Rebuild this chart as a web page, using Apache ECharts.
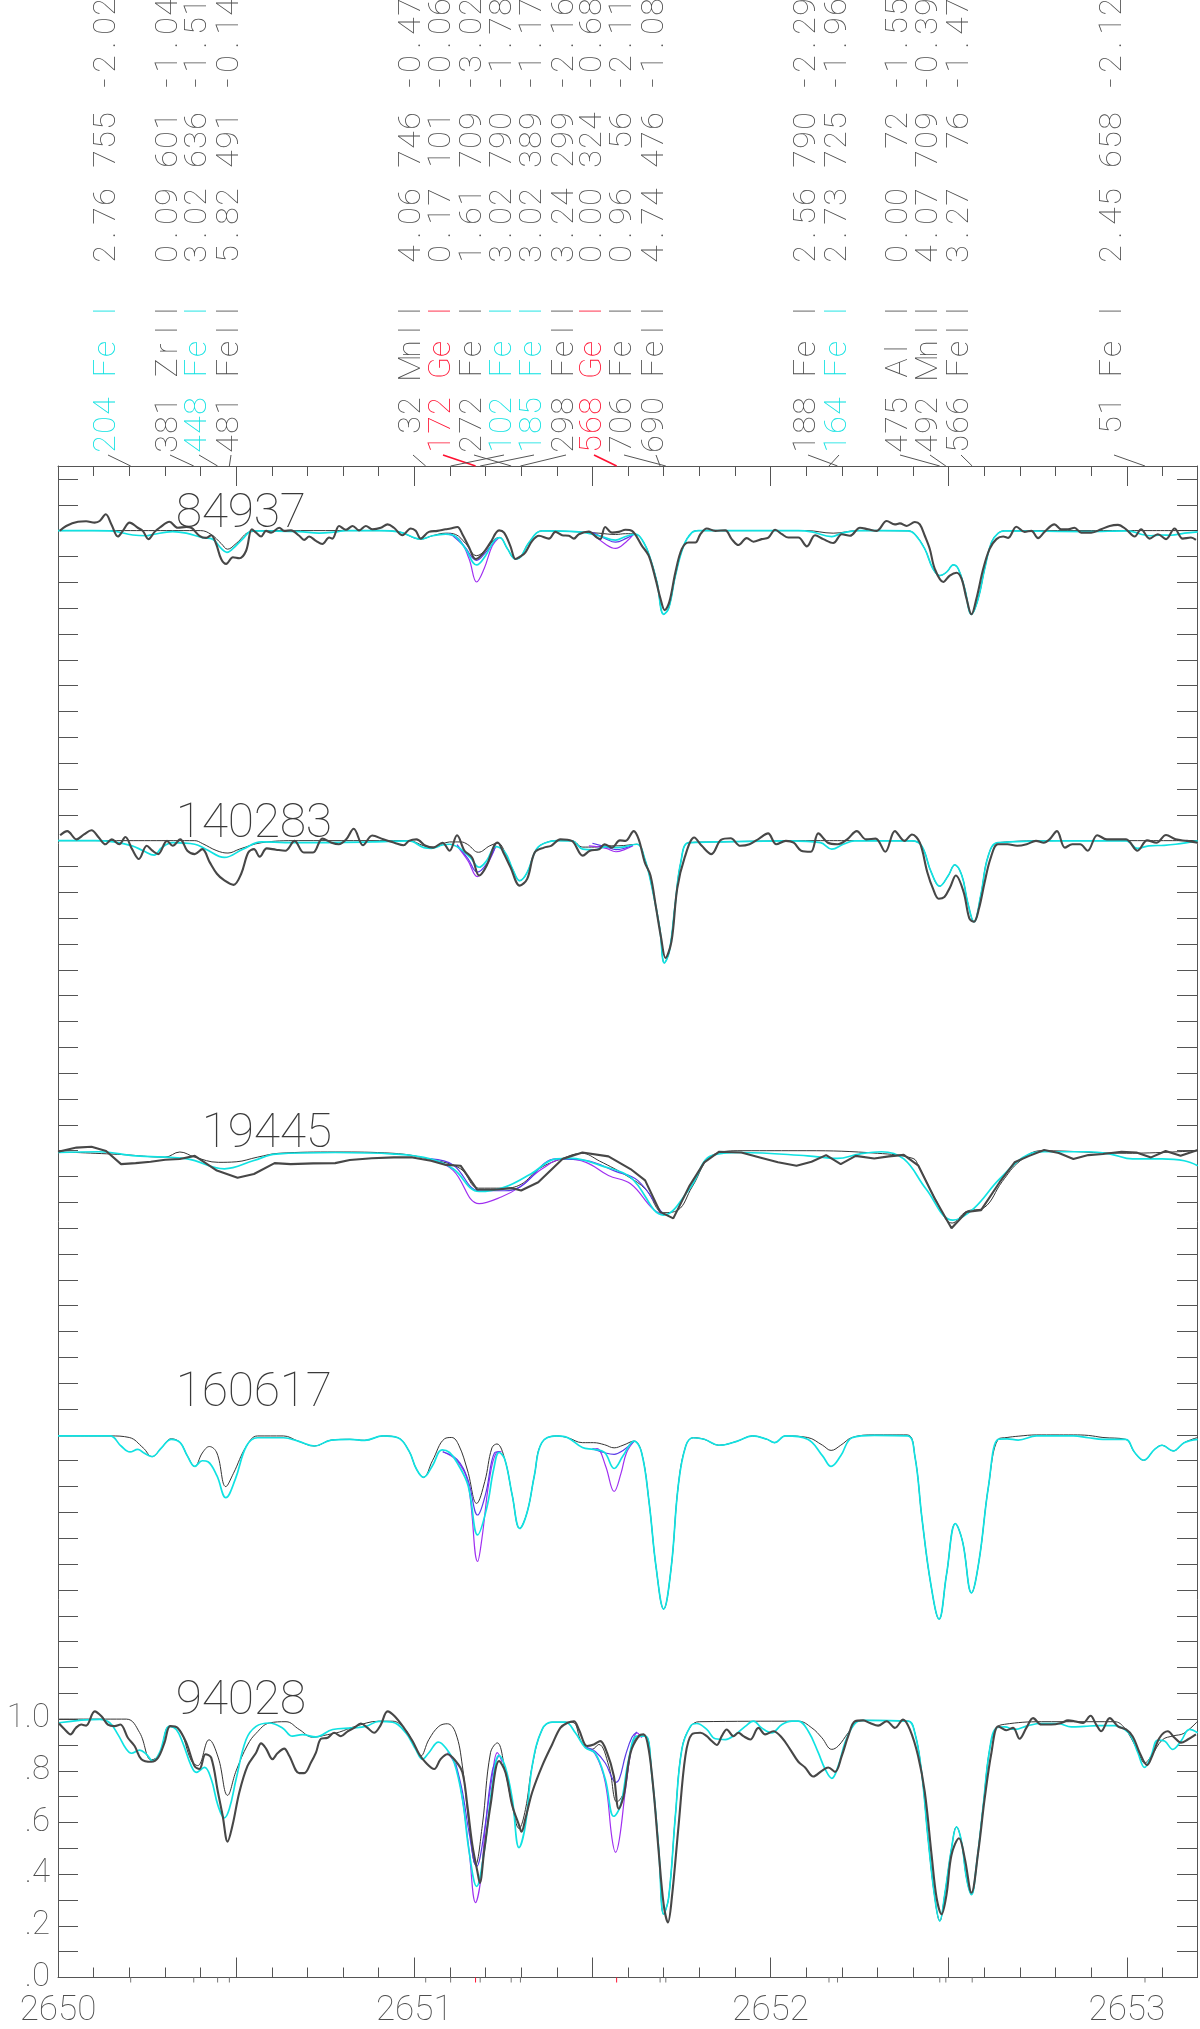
<!DOCTYPE html>
<html>
<head>
<meta charset="utf-8">
<script src="https://cdn.jsdelivr.net/npm/echarts@6.0.0/dist/echarts.min.js"></script>
<style>
  html, body { margin: 0; padding: 0; background: #fff; }
  #chart { width: 1200px; height: 2029px; }
</style>
</head>
<body>
<div id="chart"></div>
<script>
// spectra, top to bottom; flux is normalised, offsets stack them
var names = ['84937', '140283', '19445', '160617', '94028'];
var offsets = [4.6, 3.4, 2.2, 1.1, 0];
var labelFlux = [5.625, 4.425, 3.225, 2.225, 1.03];

// line list shown above the plot
var lineWave = [2650.204, 2650.381, 2650.448, 2650.481, 2651.032, 2651.172, 2651.272, 2651.102, 2651.185,
  2651.298, 2651.568, 2651.706, 2651.690, 2652.188, 2652.164, 2652.475, 2652.492, 2652.566, 2653.051];
var lineText = [
  "204 Fe I  2.76 755 -2.02",
  "381 ZrII  0.09 601 -1.04",
  "448 Fe I  3.02 636 -1.51",
  "481 FeII  5.82 491 -0.14",
  " 32 MnII  4.06 746 -0.47",
  "172 Ge I  0.17 101 -0.06",
  "272 Fe I  1.61 709 -3.02",
  "102 Fe I  3.02 790 -1.78",
  "185 Fe I  3.02 389 -1.17",
  "298 FeII  3.24 299 -2.16",
  "568 Ge I  0.00 324 -0.68",
  "706 Fe I  0.96  56 -2.11",
  "690 FeII  4.74 476 -1.08",
  "188 Fe I  2.56 790 -2.29",
  "164 Fe I  2.73 725 -1.96",
  "475 Al I  0.00  72 -1.55",
  "492 MnII  4.07 709 -0.39",
  "566 FeII  3.27  76 -1.47",
  " 51 Fe I  2.45 658 -2.12"
];
var lineKind = ['fe', '', 'fe', '', '', 'ge', '', 'fe', 'fe', '', 'ge', '', '', '', 'fe', '', '', '', ''];

// ---- 84937 ----
var obs84937 = [[2650.005,0.999],[2650.023,1.018],[2650.056,1.034],[2650.079,1.036],[2650.103,1.031],[2650.117,1.037],[2650.134,1.063],[2650.150,1.024],[2650.168,0.977],[2650.182,0.999],[2650.201,1.031],[2650.224,1.011],[2650.238,0.999],[2650.254,0.967],[2650.271,0.995],[2650.285,1.011],[2650.313,1.034],[2650.336,1.011],[2650.360,1.014],[2650.374,1.011],[2650.397,0.980],[2650.416,0.972],[2650.430,0.982],[2650.444,0.948],[2650.458,0.890],[2650.472,0.871],[2650.491,0.897],[2650.509,0.893],[2650.528,0.922],[2650.544,1.005],[2650.556,0.992],[2650.570,0.977],[2650.584,0.999],[2650.598,0.992],[2650.621,1.011],[2650.635,0.999],[2650.654,1.001],[2650.677,0.980],[2650.691,0.964],[2650.705,0.977],[2650.724,0.960],[2650.742,0.948],[2650.761,0.973],[2650.770,0.969],[2650.789,1.018],[2650.808,1.003],[2650.827,1.018],[2650.845,1.001],[2650.864,1.018],[2650.883,1.005],[2650.906,1.011],[2650.925,1.024],[2650.943,1.011],[2650.967,0.982],[2650.990,1.008],[2651.004,0.999],[2651.018,0.969],[2651.041,0.995],[2651.065,0.999],[2651.088,1.005],[2651.102,1.008],[2651.121,1.014],[2651.135,0.986],[2651.154,0.935],[2651.172,0.890],[2651.191,0.909],[2651.214,0.954],[2651.238,1.001],[2651.252,0.992],[2651.270,0.939],[2651.284,0.890],[2651.298,0.900],[2651.312,0.916],[2651.331,0.960],[2651.350,0.980],[2651.378,0.969],[2651.396,0.995],[2651.415,0.982],[2651.434,0.980],[2651.448,0.969],[2651.462,0.986],[2651.490,0.996],[2651.513,0.973],[2651.522,0.967],[2651.536,1.014],[2651.555,0.992],[2651.574,0.995],[2651.593,1.003],[2651.611,0.999],[2651.639,0.941],[2651.658,0.903],[2651.677,0.814],[2651.691,0.737],[2651.703,0.692],[2651.716,0.724],[2651.733,0.839],[2651.751,0.929],[2651.770,0.954],[2651.789,0.954],[2651.803,0.986],[2651.821,1.008],[2651.845,0.999],[2651.873,1.001],[2651.891,0.967],[2651.910,0.944],[2651.933,0.971],[2651.952,0.957],[2651.975,0.967],[2651.994,0.973],[2652.013,1.003],[2652.032,0.986],[2652.050,0.973],[2652.078,0.973],[2652.102,0.939],[2652.125,0.982],[2652.148,0.967],[2652.176,0.952],[2652.200,0.986],[2652.223,0.980],[2652.251,1.011],[2652.274,1.005],[2652.298,0.999],[2652.326,1.037],[2652.349,1.024],[2652.363,1.028],[2652.382,1.018],[2652.405,1.033],[2652.419,1.024],[2652.433,0.980],[2652.447,0.929],[2652.461,0.852],[2652.485,0.801],[2652.503,0.826],[2652.522,0.837],[2652.536,0.814],[2652.550,0.737],[2652.564,0.676],[2652.578,0.737],[2652.597,0.852],[2652.615,0.929],[2652.634,0.967],[2652.653,0.977],[2652.667,0.972],[2652.690,1.015],[2652.713,0.995],[2652.732,0.999],[2652.751,0.971],[2652.769,0.995],[2652.797,1.024],[2652.816,1.005],[2652.835,1.005],[2652.853,1.011],[2652.872,0.992],[2652.900,0.992],[2652.928,1.005],[2652.952,1.018],[2652.975,1.022],[2652.998,1.005],[2653.022,0.977],[2653.040,1.005],[2653.064,0.969],[2653.087,0.986],[2653.110,0.967],[2653.134,1.008],[2653.157,0.969],[2653.180,0.973],[2653.194,0.964]];
var syn84937 = [[2650.000,1.0],[2650.400,1.0],[2650.430,0.985],[2650.458,0.950],[2650.476,0.928],[2650.500,0.950],[2650.540,0.995],[2650.600,1.0],[2650.901,1.0],[2650.957,0.995],[2651.018,0.967],[2651.051,0.980],[2651.088,0.990],[2651.116,0.985],[2651.144,0.950],[2651.175,0.903],[2651.200,0.925],[2651.224,0.965],[2651.240,0.973],[2651.261,0.931],[2651.284,0.890],[2651.298,0.897],[2651.322,0.954],[2651.359,0.999],[2651.462,0.995],[2651.518,0.990],[2651.565,0.985],[2651.593,0.988],[2651.621,0.986],[2651.644,0.954],[2651.663,0.890],[2651.681,0.801],[2651.700,0.676],[2651.714,0.699],[2651.733,0.826],[2651.756,0.941],[2651.779,0.992],[2651.798,1.0],[2652.100,1.0],[2652.176,0.990],[2652.246,1.0],[2652.386,0.999],[2652.405,0.986],[2652.433,0.929],[2652.456,0.852],[2652.475,0.826],[2652.494,0.839],[2652.513,0.867],[2652.527,0.852],[2652.545,0.775],[2652.564,0.676],[2652.583,0.737],[2652.601,0.852],[2652.620,0.954],[2652.639,0.990],[2652.657,0.999],[2652.900,1.0],[2653.199,1.0]];
var cyan84937 = [[2650.000,1.0],[2650.145,0.999],[2650.210,0.983],[2650.248,0.980],[2650.266,0.985],[2650.322,0.996],[2650.360,0.990],[2650.406,0.973],[2650.434,0.967],[2650.458,0.931],[2650.474,0.916],[2650.490,0.929],[2650.518,0.967],[2650.546,0.999],[2650.677,0.996],[2650.733,0.990],[2650.780,0.995],[2650.808,1.0],[2650.901,1.0],[2650.957,0.995],[2651.018,0.967],[2651.051,0.980],[2651.088,0.986],[2651.116,0.977],[2651.144,0.929],[2651.175,0.867],[2651.200,0.903],[2651.224,0.960],[2651.240,0.973],[2651.261,0.931],[2651.284,0.890],[2651.298,0.897],[2651.322,0.954],[2651.359,0.999],[2651.462,0.995],[2651.518,0.980],[2651.565,0.963],[2651.593,0.977],[2651.621,0.986],[2651.644,0.954],[2651.663,0.890],[2651.681,0.801],[2651.700,0.676],[2651.714,0.699],[2651.733,0.826],[2651.756,0.941],[2651.779,0.992],[2651.798,1.0],[2652.078,1.0],[2652.116,0.995],[2652.172,0.977],[2652.200,0.990],[2652.246,1.0],[2652.386,0.999],[2652.405,0.986],[2652.433,0.929],[2652.456,0.852],[2652.475,0.826],[2652.494,0.839],[2652.513,0.867],[2652.527,0.852],[2652.545,0.775],[2652.564,0.676],[2652.583,0.737],[2652.601,0.852],[2652.620,0.954],[2652.639,0.990],[2652.657,0.999],[2652.891,0.996],[2653.003,0.999],[2653.040,0.986],[2653.068,0.980],[2653.096,0.983],[2653.124,0.982],[2653.162,0.990],[2653.199,0.995]];
var blue84937 = [[2651.100,0.990],[2651.140,0.940],[2651.175,0.885],[2651.200,0.915],[2651.230,0.970],[2651.400,null],[2651.500,0.993],[2651.535,0.970],[2651.565,0.955],[2651.595,0.970],[2651.620,0.990]];
var purple84937 = [[2651.088,0.987],[2651.126,0.967],[2651.154,0.890],[2651.175,0.801],[2651.196,0.852],[2651.219,0.941],[2651.238,0.973],[2651.400,null],[2651.499,0.990],[2651.536,0.948],[2651.565,0.931],[2651.593,0.954],[2651.616,0.986]];

// ---- 140283 ----
var obs140283 = [[2650.006,1.021],[2650.026,1.037],[2650.052,1.005],[2650.073,1.024],[2650.094,1.040],[2650.115,1.011],[2650.133,0.986],[2650.151,1.005],[2650.172,0.986],[2650.189,1.014],[2650.208,0.967],[2650.227,0.929],[2650.249,0.980],[2650.265,0.961],[2650.281,0.948],[2650.306,0.999],[2650.322,0.980],[2650.343,1.005],[2650.363,0.961],[2650.384,0.948],[2650.405,0.967],[2650.426,0.916],[2650.446,0.872],[2650.467,0.846],[2650.493,0.829],[2650.514,0.871],[2650.534,0.954],[2650.550,0.967],[2650.566,0.938],[2650.586,0.970],[2650.612,0.965],[2650.638,0.961],[2650.664,0.999],[2650.690,0.954],[2650.716,0.954],[2650.742,1.008],[2650.768,0.992],[2650.788,0.986],[2650.809,1.005],[2650.830,1.046],[2650.856,0.982],[2650.882,1.020],[2650.913,1.005],[2650.944,0.992],[2650.970,0.982],[2650.985,0.999],[2651.006,1.005],[2651.032,0.980],[2651.053,0.973],[2651.079,0.992],[2651.099,0.961],[2651.120,1.021],[2651.141,0.961],[2651.162,0.935],[2651.182,0.865],[2651.203,0.903],[2651.224,0.980],[2651.234,0.993],[2651.250,0.954],[2651.270,0.897],[2651.296,0.826],[2651.317,0.852],[2651.338,0.954],[2651.364,0.973],[2651.384,0.980],[2651.410,1.005],[2651.442,0.999],[2651.473,0.942],[2651.493,0.961],[2651.519,0.967],[2651.534,0.986],[2651.555,0.973],[2651.577,1.001],[2651.593,0.999],[2651.616,1.037],[2651.630,1.005],[2651.647,0.916],[2651.663,0.865],[2651.679,0.737],[2651.693,0.622],[2651.705,0.546],[2651.722,0.610],[2651.738,0.814],[2651.759,0.935],[2651.786,1.012],[2651.807,0.980],[2651.834,0.948],[2651.861,1.003],[2651.888,1.009],[2651.915,0.980],[2651.941,0.986],[2651.968,1.008],[2651.993,1.028],[2652.016,0.986],[2652.043,0.999],[2652.065,0.992],[2652.086,0.961],[2652.113,0.957],[2652.134,1.028],[2652.161,0.992],[2652.188,0.986],[2652.215,1.005],[2652.242,1.037],[2652.268,1.005],[2652.295,1.008],[2652.322,0.957],[2652.349,1.037],[2652.376,0.999],[2652.397,1.024],[2652.419,0.992],[2652.440,0.878],[2652.456,0.814],[2652.472,0.775],[2652.488,0.782],[2652.504,0.820],[2652.520,0.865],[2652.542,0.801],[2652.558,0.699],[2652.571,0.686],[2652.585,0.737],[2652.601,0.839],[2652.617,0.929],[2652.638,0.986],[2652.665,0.986],[2652.692,0.980],[2652.719,0.986],[2652.745,0.999],[2652.767,0.992],[2652.783,1.005],[2652.804,1.037],[2652.826,0.973],[2652.847,0.986],[2652.869,0.986],[2652.890,0.961],[2652.917,1.021],[2652.944,1.005],[2652.971,1.005],[2652.998,1.005],[2653.030,0.961],[2653.057,1.001],[2653.083,0.992],[2653.110,1.022],[2653.137,1.005],[2653.169,0.999],[2653.199,0.992]];
var syn140283 = [[2650.000,1.0],[2650.384,1.0],[2650.405,0.989],[2650.446,0.961],[2650.477,0.952],[2650.509,0.967],[2650.571,0.992],[2650.674,1.0],[2650.985,1.0],[2651.027,0.980],[2651.055,0.975],[2651.099,0.995],[2651.131,0.995],[2651.150,0.985],[2651.180,0.955],[2651.212,0.980],[2651.235,0.990],[2651.255,0.954],[2651.276,0.890],[2651.296,0.845],[2651.317,0.877],[2651.343,0.967],[2651.369,0.992],[2651.402,1.0],[2651.442,1.0],[2651.473,0.975],[2651.506,0.975],[2651.537,0.980],[2651.572,0.980],[2651.625,0.986],[2651.647,0.929],[2651.668,0.814],[2651.689,0.661],[2651.702,0.527],[2651.716,0.572],[2651.732,0.750],[2651.748,0.916],[2651.770,0.992],[2651.840,0.995],[2652.140,1.0],[2652.236,1.0],[2652.397,0.999],[2652.424,0.980],[2652.451,0.878],[2652.475,0.824],[2652.499,0.865],[2652.517,0.906],[2652.537,0.865],[2652.553,0.763],[2652.571,0.686],[2652.590,0.788],[2652.611,0.941],[2652.638,0.992],[2652.804,1.0],[2653.199,1.0]];
var cyan140283 = [[2650.000,1.0],[2650.104,1.0],[2650.156,0.995],[2650.208,0.980],[2650.239,0.961],[2650.270,0.944],[2650.291,0.973],[2650.322,0.992],[2650.384,0.986],[2650.415,0.967],[2650.467,0.935],[2650.519,0.967],[2650.571,0.995],[2650.674,0.992],[2650.882,0.995],[2650.985,0.999],[2651.027,0.973],[2651.048,0.970],[2651.079,0.983],[2651.099,0.986],[2651.131,0.967],[2651.157,0.935],[2651.182,0.897],[2651.203,0.922],[2651.229,0.977],[2651.255,0.954],[2651.276,0.890],[2651.296,0.845],[2651.317,0.877],[2651.343,0.967],[2651.369,0.992],[2651.402,1.0],[2651.442,0.999],[2651.473,0.967],[2651.506,0.964],[2651.537,0.977],[2651.572,0.973],[2651.625,0.986],[2651.647,0.929],[2651.668,0.814],[2651.689,0.661],[2651.702,0.527],[2651.716,0.572],[2651.732,0.750],[2651.748,0.916],[2651.770,0.992],[2651.840,0.995],[2652.054,0.999],[2652.140,0.992],[2652.172,0.967],[2652.204,0.986],[2652.236,0.999],[2652.397,0.999],[2652.424,0.980],[2652.451,0.878],[2652.475,0.824],[2652.499,0.865],[2652.517,0.906],[2652.537,0.865],[2652.553,0.763],[2652.571,0.686],[2652.590,0.788],[2652.611,0.941],[2652.638,0.992],[2652.804,0.999],[2652.998,0.999],[2653.030,0.970],[2653.062,0.980],[2653.105,0.982],[2653.137,0.986],[2653.199,0.999]];
var blue140283 = [[2651.120,0.985],[2651.151,0.930],[2651.177,0.878],[2651.203,0.910],[2651.229,0.980],[2651.400,null],[2651.500,0.990],[2651.540,0.975],[2651.566,0.965],[2651.593,0.972],[2651.614,0.982]];
var purple140283 = [[2651.120,0.980],[2651.151,0.922],[2651.177,0.861],[2651.203,0.903],[2651.229,0.980],[2651.400,null],[2651.490,0.980],[2651.518,0.976],[2651.539,0.970],[2651.566,0.957],[2651.593,0.967],[2651.614,0.980]];

// ---- 19445 ----
var obs19445 = [[2650.000,0.996],[2650.052,1.012],[2650.094,1.015],[2650.135,0.999],[2650.177,0.948],[2650.218,0.952],[2650.260,0.957],[2650.301,0.965],[2650.342,0.968],[2650.384,0.980],[2650.446,0.923],[2650.504,0.895],[2650.550,0.910],[2650.608,0.952],[2650.653,0.948],[2650.716,0.951],[2650.778,0.952],[2650.819,0.964],[2650.881,0.971],[2650.943,0.974],[2650.995,0.974],[2651.047,0.961],[2651.089,0.945],[2651.130,0.942],[2651.176,0.850],[2651.223,0.849],[2651.275,0.855],[2651.300,0.846],[2651.348,0.878],[2651.416,0.968],[2651.472,0.993],[2651.545,0.978],[2651.607,0.929],[2651.648,0.885],[2651.690,0.763],[2651.727,0.738],[2651.773,0.865],[2651.814,0.955],[2651.856,0.996],[2651.918,0.993],[2651.970,0.974],[2652.021,0.955],[2652.073,0.942],[2652.115,0.957],[2652.156,0.983],[2652.197,0.948],[2652.239,0.980],[2652.291,0.970],[2652.332,0.978],[2652.374,0.984],[2652.415,0.942],[2652.461,0.814],[2652.508,0.700],[2652.550,0.763],[2652.591,0.770],[2652.643,0.878],[2652.685,0.955],[2652.726,0.980],[2652.768,1.003],[2652.809,0.991],[2652.850,0.968],[2652.892,0.983],[2652.933,0.987],[2652.985,0.996],[2653.027,0.993],[2653.068,0.974],[2653.109,0.999],[2653.151,0.980],[2653.199,1.003]];
var syn19445 = [[2650.000,0.996],[2650.180,0.985],[2650.300,0.975],[2650.342,0.995],[2650.384,0.975],[2650.450,0.955],[2650.500,0.957],[2650.560,0.975],[2650.620,0.990],[2650.780,0.995],[2650.940,0.990],[2651.050,0.965],[2651.130,0.930],[2651.180,0.855],[2651.250,0.855],[2651.300,0.870],[2651.350,0.930],[2651.416,0.970],[2651.470,0.990],[2651.520,0.960],[2651.600,0.900],[2651.650,0.850],[2651.700,0.760],[2651.740,0.770],[2651.780,0.860],[2651.840,0.985],[2651.920,1.0],[2652.100,1.0],[2652.300,0.990],[2652.400,0.970],[2652.415,0.942],[2652.460,0.820],[2652.510,0.720],[2652.550,0.765],[2652.600,0.780],[2652.650,0.880],[2652.700,0.960],[2652.760,1.0],[2653.000,0.990],[2653.199,1.0]];
var cyan19445 = [[2650.000,0.993],[2650.115,0.996],[2650.218,0.980],[2650.363,0.968],[2650.467,0.930],[2650.550,0.962],[2650.612,0.987],[2650.778,0.993],[2650.943,0.987],[2651.047,0.968],[2651.109,0.930],[2651.182,0.842],[2651.254,0.859],[2651.327,0.910],[2651.399,0.968],[2651.441,0.970],[2651.524,0.942],[2651.607,0.897],[2651.700,0.751],[2651.773,0.853],[2651.835,0.981],[2651.918,0.993],[2652.104,0.980],[2652.187,0.970],[2652.249,0.987],[2652.311,0.996],[2652.374,0.968],[2652.436,0.853],[2652.512,0.731],[2652.570,0.776],[2652.643,0.891],[2652.726,0.987],[2652.768,0.996],[2652.892,0.996],[2652.954,0.987],[2653.016,0.968],[2653.099,0.968],[2653.161,0.961],[2653.199,0.942]];
var blue19445 = [[2651.047,0.968],[2651.109,0.945],[2651.182,0.845],[2651.244,0.845],[2651.296,0.859],[2651.399,0.968],[2651.482,0.962],[2651.565,0.920],[2651.627,0.885],[2651.690,0.770],[2651.700,0.751]];
var purple19445 = [[2651.047,0.968],[2651.109,0.924],[2651.182,0.795],[2651.244,0.821],[2651.296,0.859],[2651.358,0.929],[2651.420,0.968],[2651.482,0.955],[2651.545,0.904],[2651.607,0.872],[2651.669,0.776],[2651.700,0.751]];

// ---- 160617 (no observed spectrum) ----
var syn160617 = [[2650.000,0.996],[2650.146,0.996],[2650.200,0.990],[2650.239,0.950],[2650.264,0.916],[2650.291,0.951],[2650.318,0.985],[2650.343,0.970],[2650.363,0.919],[2650.384,0.878],[2650.405,0.930],[2650.425,0.955],[2650.446,0.930],[2650.471,0.800],[2650.492,0.850],[2650.529,0.957],[2650.560,0.996],[2650.633,0.996],[2650.674,0.976],[2650.720,0.957],[2650.767,0.980],[2650.819,0.983],[2650.861,0.979],[2650.912,0.996],[2650.954,0.989],[2650.985,0.938],[2651.006,0.868],[2651.026,0.836],[2651.051,0.900],[2651.085,0.985],[2651.105,0.990],[2651.125,0.960],[2651.150,0.860],[2651.175,0.735],[2651.198,0.820],[2651.218,0.950],[2651.232,0.965],[2651.254,0.906],[2651.275,0.766],[2651.296,0.638],[2651.317,0.702],[2651.337,0.842],[2651.358,0.970],[2651.400,0.996],[2651.431,0.989],[2651.472,0.970],[2651.503,0.970],[2651.534,0.962],[2651.561,0.950],[2651.586,0.960],[2651.617,0.976],[2651.638,0.932],[2651.659,0.740],[2651.679,0.485],[2651.700,0.326],[2651.721,0.485],[2651.741,0.804],[2651.762,0.957],[2651.783,0.989],[2651.814,0.983],[2651.855,0.960],[2651.907,0.976],[2651.949,0.996],[2651.990,0.983],[2652.011,0.970],[2652.042,0.996],[2652.104,0.990],[2652.146,0.960],[2652.170,0.940],[2652.197,0.960],[2652.229,0.990],[2652.291,1.0],[2652.384,1.0],[2652.405,0.919],[2652.425,0.677],[2652.450,0.421],[2652.473,0.287],[2652.494,0.460],[2652.519,0.657],[2652.539,0.587],[2652.564,0.389],[2652.585,0.511],[2652.612,0.804],[2652.639,0.983],[2652.664,0.990],[2652.695,0.995],[2652.747,1.0],[2652.850,1.0],[2652.892,0.998],[2652.933,0.990],[2652.996,0.983],[2653.022,0.932],[2653.047,0.902],[2653.078,0.944],[2653.099,0.960],[2653.130,0.938],[2653.161,0.970],[2653.199,0.990]];
var cyan160617 = [[2650.000,0.996],[2650.146,0.996],[2650.177,0.957],[2650.202,0.934],[2650.224,0.944],[2650.239,0.932],[2650.264,0.916],[2650.291,0.951],[2650.318,0.983],[2650.343,0.970],[2650.363,0.919],[2650.384,0.878],[2650.405,0.900],[2650.421,0.896],[2650.446,0.842],[2650.471,0.757],[2650.498,0.830],[2650.529,0.957],[2650.560,0.989],[2650.633,0.989],[2650.674,0.976],[2650.720,0.957],[2650.767,0.980],[2650.819,0.983],[2650.861,0.979],[2650.912,0.996],[2650.954,0.989],[2650.985,0.938],[2651.006,0.868],[2651.026,0.836],[2651.051,0.881],[2651.078,0.942],[2651.099,0.932],[2651.120,0.893],[2651.151,0.804],[2651.178,0.613],[2651.203,0.715],[2651.223,0.868],[2651.238,0.932],[2651.254,0.906],[2651.275,0.766],[2651.296,0.638],[2651.317,0.702],[2651.337,0.842],[2651.358,0.970],[2651.400,0.996],[2651.431,0.989],[2651.472,0.951],[2651.503,0.944],[2651.534,0.932],[2651.561,0.870],[2651.586,0.919],[2651.617,0.976],[2651.638,0.932],[2651.659,0.740],[2651.679,0.485],[2651.700,0.326],[2651.721,0.485],[2651.741,0.804],[2651.762,0.957],[2651.783,0.989],[2651.814,0.983],[2651.855,0.960],[2651.907,0.976],[2651.949,0.996],[2651.990,0.983],[2652.011,0.970],[2652.042,0.996],[2652.104,0.983],[2652.146,0.919],[2652.170,0.878],[2652.197,0.919],[2652.229,0.989],[2652.291,0.998],[2652.384,0.996],[2652.405,0.919],[2652.425,0.677],[2652.450,0.421],[2652.473,0.287],[2652.494,0.460],[2652.519,0.657],[2652.539,0.587],[2652.564,0.389],[2652.585,0.511],[2652.612,0.804],[2652.639,0.983],[2652.664,0.985],[2652.695,0.980],[2652.747,0.996],[2652.850,0.996],[2652.892,0.989],[2652.933,0.983],[2652.996,0.983],[2653.022,0.932],[2653.047,0.902],[2653.078,0.944],[2653.099,0.960],[2653.130,0.938],[2653.161,0.970],[2653.199,0.983]];
var blue160617 = [[2651.080,0.935],[2651.120,0.905],[2651.150,0.830],[2651.178,0.690],[2651.200,0.770],[2651.225,0.930],[2651.240,0.935],[2651.400,null],[2651.500,0.947],[2651.537,0.930],[2651.561,0.925],[2651.586,0.940],[2651.617,0.976]];
var purple160617 = [[2651.080,0.935],[2651.120,0.900],[2651.150,0.820],[2651.178,0.510],[2651.190,0.600],[2651.210,0.820],[2651.230,0.930],[2651.245,0.935],[2651.400,null],[2651.500,0.944],[2651.513,0.947],[2651.537,0.880],[2651.561,0.781],[2651.580,0.850],[2651.596,0.932],[2651.617,0.976]];

// ---- 94028 ----
var obs94028 = [[2650.003,0.983],[2650.019,0.960],[2650.035,0.941],[2650.050,0.966],[2650.065,0.979],[2650.079,0.975],[2650.103,1.030],[2650.122,1.011],[2650.140,0.979],[2650.159,0.973],[2650.175,0.979],[2650.196,0.928],[2650.215,0.896],[2650.234,0.845],[2650.262,0.835],[2650.281,0.851],[2650.299,0.909],[2650.315,0.973],[2650.336,0.966],[2650.360,0.909],[2650.383,0.819],[2650.397,0.807],[2650.414,0.864],[2650.430,0.851],[2650.449,0.717],[2650.462,0.628],[2650.476,0.526],[2650.490,0.590],[2650.509,0.717],[2650.532,0.819],[2650.556,0.870],[2650.570,0.906],[2650.584,0.886],[2650.602,0.845],[2650.616,0.868],[2650.635,0.886],[2650.649,0.858],[2650.677,0.791],[2650.691,0.791],[2650.710,0.832],[2650.724,0.870],[2650.738,0.924],[2650.757,0.928],[2650.775,0.947],[2650.794,0.934],[2650.813,0.953],[2650.831,0.966],[2650.850,0.983],[2650.869,0.966],[2650.887,0.947],[2650.905,0.975],[2650.925,1.030],[2650.945,1.011],[2650.971,0.966],[2650.995,0.915],[2651.014,0.864],[2651.032,0.832],[2651.056,0.807],[2651.074,0.845],[2651.093,0.864],[2651.116,0.838],[2651.135,0.794],[2651.149,0.666],[2651.163,0.513],[2651.177,0.411],[2651.184,0.366],[2651.196,0.487],[2651.214,0.666],[2651.238,0.838],[2651.256,0.794],[2651.275,0.666],[2651.294,0.590],[2651.301,0.564],[2651.312,0.615],[2651.331,0.717],[2651.359,0.819],[2651.387,0.902],[2651.410,0.966],[2651.429,0.985],[2651.448,0.992],[2651.462,0.960],[2651.485,0.896],[2651.504,0.902],[2651.522,0.915],[2651.541,0.870],[2651.560,0.781],[2651.574,0.653],[2651.588,0.704],[2651.607,0.870],[2651.630,0.934],[2651.644,0.941],[2651.658,0.883],[2651.672,0.717],[2651.686,0.487],[2651.700,0.283],[2651.712,0.213],[2651.723,0.309],[2651.742,0.590],[2651.761,0.858],[2651.779,0.941],[2651.803,0.947],[2651.821,0.934],[2651.835,0.915],[2651.849,0.900],[2651.863,0.934],[2651.877,0.960],[2651.896,0.934],[2651.910,0.947],[2651.924,0.934],[2651.943,0.921],[2651.966,0.966],[2651.985,0.941],[2652.008,0.953],[2652.032,0.928],[2652.055,0.883],[2652.078,0.835],[2652.097,0.813],[2652.120,0.778],[2652.144,0.800],[2652.162,0.813],[2652.181,0.796],[2652.200,0.858],[2652.218,0.934],[2652.237,0.992],[2652.260,0.995],[2652.279,0.985],[2652.302,0.975],[2652.326,0.992],[2652.349,0.966],[2652.372,0.998],[2652.391,0.960],[2652.414,0.858],[2652.433,0.717],[2652.452,0.475],[2652.466,0.309],[2652.480,0.245],[2652.494,0.322],[2652.508,0.475],[2652.529,0.539],[2652.545,0.462],[2652.564,0.328],[2652.583,0.487],[2652.601,0.692],[2652.620,0.870],[2652.639,0.972],[2652.662,0.957],[2652.681,0.966],[2652.699,0.924],[2652.718,0.966],[2652.737,1.004],[2652.760,0.979],[2652.788,0.979],[2652.816,0.985],[2652.835,0.995],[2652.853,0.992],[2652.877,0.985],[2652.898,1.013],[2652.914,0.979],[2652.928,0.953],[2652.952,1.004],[2652.975,0.972],[2652.998,0.960],[2653.017,0.932],[2653.036,0.870],[2653.057,0.822],[2653.073,0.864],[2653.092,0.928],[2653.115,0.953],[2653.134,0.928],[2653.152,0.909],[2653.171,0.921],[2653.194,0.941]];
var syn94028 = [[2650.003,1.0],[2650.192,1.0],[2650.229,0.948],[2650.262,0.842],[2650.285,0.863],[2650.313,0.972],[2650.341,0.960],[2650.374,0.840],[2650.392,0.820],[2650.424,0.920],[2650.450,0.850],[2650.476,0.705],[2650.500,0.800],[2650.532,0.900],[2650.556,0.945],[2650.593,0.985],[2650.640,0.990],[2650.677,0.960],[2650.715,0.930],[2650.757,0.940],[2650.790,0.950],[2650.830,0.970],[2650.901,0.992],[2650.939,0.992],[2650.971,0.966],[2650.995,0.915],[2651.018,0.857],[2651.041,0.921],[2651.069,0.972],[2651.093,0.982],[2651.116,0.947],[2651.135,0.819],[2651.154,0.589],[2651.172,0.436],[2651.191,0.589],[2651.214,0.870],[2651.233,0.908],[2651.256,0.793],[2651.275,0.666],[2651.294,0.577],[2651.312,0.650],[2651.331,0.819],[2651.359,0.960],[2651.387,0.988],[2651.443,0.988],[2651.471,0.908],[2651.499,0.883],[2651.518,0.902],[2651.546,0.819],[2651.569,0.679],[2651.588,0.717],[2651.611,0.896],[2651.625,0.928],[2651.649,0.934],[2651.667,0.781],[2651.686,0.500],[2651.700,0.245],[2651.714,0.309],[2651.733,0.628],[2651.751,0.883],[2651.775,0.970],[2651.800,0.990],[2652.078,0.992],[2652.116,0.966],[2652.144,0.928],[2652.172,0.883],[2652.190,0.896],[2652.218,0.947],[2652.246,0.992],[2652.265,0.995],[2652.386,0.992],[2652.405,0.947],[2652.424,0.794],[2652.442,0.539],[2652.461,0.309],[2652.475,0.219],[2652.489,0.322],[2652.508,0.500],[2652.522,0.583],[2652.536,0.526],[2652.550,0.385],[2652.564,0.321],[2652.578,0.436],[2652.597,0.666],[2652.615,0.883],[2652.634,0.966],[2652.657,0.980],[2652.760,0.990],[2652.965,0.990],[2652.994,0.965],[2653.030,0.880],[2653.050,0.830],[2653.070,0.860],[2653.100,0.920],[2653.130,0.935],[2653.160,0.945],[2653.199,0.992]];
var cyan94028 = [[2650.003,0.986],[2650.117,0.999],[2650.145,0.986],[2650.168,0.941],[2650.192,0.883],[2650.206,0.868],[2650.229,0.880],[2650.248,0.864],[2650.266,0.838],[2650.285,0.870],[2650.313,0.972],[2650.332,0.960],[2650.350,0.909],[2650.374,0.819],[2650.388,0.794],[2650.411,0.813],[2650.430,0.768],[2650.449,0.666],[2650.467,0.618],[2650.481,0.653],[2650.500,0.768],[2650.528,0.921],[2650.556,0.972],[2650.593,0.985],[2650.630,0.966],[2650.658,0.934],[2650.686,0.940],[2650.724,0.931],[2650.771,0.960],[2650.827,0.966],[2650.864,0.972],[2650.901,0.991],[2650.939,0.988],[2650.976,0.947],[2651.004,0.883],[2651.023,0.845],[2651.041,0.870],[2651.068,0.911],[2651.088,0.889],[2651.112,0.832],[2651.135,0.692],[2651.154,0.487],[2651.175,0.353],[2651.196,0.487],[2651.219,0.743],[2651.238,0.860],[2651.256,0.813],[2651.275,0.692],[2651.294,0.503],[2651.312,0.590],[2651.331,0.819],[2651.359,0.960],[2651.387,0.988],[2651.424,0.988],[2651.452,0.947],[2651.480,0.890],[2651.508,0.868],[2651.536,0.768],[2651.560,0.624],[2651.579,0.666],[2651.602,0.845],[2651.625,0.934],[2651.649,0.934],[2651.667,0.781],[2651.686,0.500],[2651.700,0.245],[2651.714,0.309],[2651.733,0.628],[2651.751,0.883],[2651.775,0.972],[2651.793,0.983],[2651.821,0.960],[2651.845,0.924],[2651.873,0.921],[2651.901,0.940],[2651.929,0.972],[2651.952,0.992],[2651.975,0.966],[2652.003,0.947],[2652.032,0.979],[2652.060,0.992],[2652.078,0.992],[2652.106,0.953],[2652.134,0.870],[2652.153,0.807],[2652.172,0.771],[2652.190,0.819],[2652.209,0.909],[2652.228,0.966],[2652.246,0.992],[2652.265,0.995],[2652.386,0.992],[2652.405,0.947],[2652.424,0.794],[2652.442,0.539],[2652.461,0.309],[2652.475,0.219],[2652.489,0.322],[2652.508,0.500],[2652.522,0.583],[2652.536,0.526],[2652.550,0.385],[2652.564,0.321],[2652.578,0.436],[2652.597,0.666],[2652.615,0.883],[2652.634,0.966],[2652.657,0.970],[2652.685,0.960],[2652.723,0.975],[2652.760,0.983],[2652.807,0.983],[2652.844,0.970],[2652.881,0.972],[2652.919,0.975],[2652.965,0.975],[2652.994,0.960],[2653.012,0.934],[2653.031,0.870],[2653.050,0.813],[2653.068,0.857],[2653.087,0.919],[2653.106,0.915],[2653.129,0.883],[2653.152,0.915],[2653.176,0.960],[2653.199,0.947]];
var blue94028 = [[2651.116,0.830],[2651.135,0.720],[2651.154,0.560],[2651.175,0.430],[2651.196,0.560],[2651.219,0.800],[2651.238,0.860],[2651.400,null],[2651.480,0.892],[2651.508,0.875],[2651.536,0.830],[2651.556,0.770],[2651.565,0.755],[2651.576,0.770],[2651.593,0.860],[2651.611,0.930],[2651.625,0.950]];
var purple94028 = [[2651.093,0.870],[2651.116,0.819],[2651.135,0.692],[2651.154,0.489],[2651.172,0.290],[2651.186,0.373],[2651.200,0.590],[2651.219,0.781],[2651.233,0.870],[2651.247,0.832],[2651.400,null],[2651.480,0.890],[2651.508,0.864],[2651.536,0.755],[2651.555,0.538],[2651.565,0.484],[2651.576,0.538],[2651.593,0.730],[2651.611,0.896],[2651.625,0.947],[2651.639,0.928]];

var spectra = [
  { obs: obs84937, syn: syn84937, cyan: cyan84937, blue: blue84937, purple: purple84937 },
  { obs: obs140283, syn: syn140283, cyan: cyan140283, blue: blue140283, purple: purple140283 },
  { obs: obs19445, syn: syn19445, cyan: cyan19445, blue: blue19445, purple: purple19445, jagged: true },
  { obs: null, syn: syn160617, cyan: cyan160617, blue: blue160617, purple: purple160617 },
  { obs: obs94028, syn: syn94028, cyan: cyan94028, blue: blue94028, purple: purple94028 }
];

var axisColor = '#555';
var textGray = '#4e4e4e';
var cyanColor = '#10e2e2';
var redColor = '#ff1030';
var FONT = 'Roboto, "DejaVu Sans", sans-serif';

function lift(arr, off) {
  return arr.map(function (p) {
    return [p[0], p[1] === null ? null : Math.round((p[1] + off) * 1000) / 1000];
  });
}

var series = [];
spectra.forEach(function (s, k) {
  var off = offsets[k];
  var base = { type: 'line', symbol: 'none', showSymbol: false, silent: true, animation: false, connectNulls: false };
  series.push(Object.assign({}, base, { data: lift(s.syn, off), smooth: 0.4, z: 2,
    lineStyle: { color: '#333', width: 1 } }));
  series.push(Object.assign({}, base, { data: lift(s.purple, off), smooth: 0.4, z: 3,
    lineStyle: { color: '#a030f0', width: 1.2 } }));
  series.push(Object.assign({}, base, { data: lift(s.blue, off), smooth: 0.4, z: 3,
    lineStyle: { color: '#5a3ce8', width: 1.2 } }));
  series.push(Object.assign({}, base, { data: lift(s.cyan, off), smooth: 0.4, z: 4,
    lineStyle: { color: cyanColor, width: 1.7 } }));
  if (s.obs) {
    series.push(Object.assign({}, base, { data: lift(s.obs, off), smooth: s.jagged ? false : 0.35, z: 5,
      lineStyle: { color: '#474747', width: 2.1 } }));
  }
});

function isInt(v) { return Math.abs(v - Math.round(v)) < 1e-6; }

var xCommon = { type: 'value', min: 2650, max: 2653.197, splitLine: { show: false } };
var option = {
  animation: false,
  backgroundColor: '#fff',
  grid: { left: 58, right: 1, top: 466, bottom: 35, containLabel: false },
  xAxis: [
    Object.assign({}, xCommon, {
      position: 'bottom', interval: 0.5,
      axisLine: { onZero: false, lineStyle: { color: axisColor, width: 1 } },
      axisTick: { inside: true, length: 20, lineStyle: { color: axisColor } },
      axisLabel: { margin: 22, color: '#4e4e4e', fontFamily: FONT, fontWeight: 100, fontSize: 35, lineHeight: 24,
        verticalAlign: 'top', formatter: function (v) { return isInt(v) ? String(Math.round(v)) : ''; } }
    }),
    Object.assign({}, xCommon, {
      position: 'bottom', interval: 0.1,
      axisLine: { show: false, onZero: false },
      axisTick: { inside: true, length: 10, lineStyle: { color: axisColor } },
      axisLabel: { show: false }
    }),
    Object.assign({}, xCommon, {
      position: 'top', interval: 0.5,
      axisLine: { onZero: false, lineStyle: { color: axisColor, width: 1 } },
      axisTick: { inside: true, length: 20, lineStyle: { color: axisColor } },
      axisLabel: { show: false }
    }),
    Object.assign({}, xCommon, {
      position: 'top', interval: 0.1,
      axisLine: { show: false, onZero: false },
      axisTick: { inside: true, length: 10, lineStyle: { color: axisColor } },
      axisLabel: { show: false }
    })
  ],
  yAxis: [
    {
      type: 'value', min: 0, max: 5.85, interval: 0.1, position: 'left',
      splitLine: { show: false },
      axisLine: { show: true, onZero: false, lineStyle: { color: axisColor, width: 1 } },
      axisTick: { show: true, inside: true, length: 20, lineStyle: { color: axisColor } },
      axisLabel: { margin: 8, color: '#4e4e4e', fontFamily: FONT, fontWeight: 100, fontSize: 33, lineHeight: 22,
        align: 'right', verticalAlign: 'middle',
        formatter: function (v) {
          var t = Math.round(v * 10);
          if (v > 1.001 || t % 2) return '';
          return t === 10 ? '1.0' : '.' + t;
        } }
    },
    {
      type: 'value', min: 0, max: 5.85, interval: 0.1, position: 'right',
      splitLine: { show: false },
      axisLine: { show: true, onZero: false, lineStyle: { color: axisColor, width: 1 } },
      axisTick: { show: true, inside: true, length: 20, lineStyle: { color: axisColor } },
      axisLabel: { show: false }
    }
  ],
  series: series
};

var chart = echarts.init(document.getElementById('chart'));
chart.setOption(option);

// text and line markers placed from the axis scales
var g = [];
function glyph(ch, x, y, size, color, rot) {
  if (ch === ' ') return;
  g.push({ type: 'text', x: x, y: y, rotation: rot || 0, silent: true, z: 10,
    style: { text: ch, x: 0, y: 0, align: 'center', verticalAlign: 'middle',
      font: '100 ' + size + 'px ' + FONT, fill: color } });
}

var labelCol = [103, 165, 194, 226, 408, 438, 469, 499, 529, 561, 589, 619, 651, 803, 834, 895, 925, 956, 1109];
var yZero = chart.convertToPixel({ yAxisIndex: 0 }, 0);
var yTop = chart.convertToPixel({ yAxisIndex: 0 }, 5.85);
lineWave.forEach(function (w, i) {
  var px = chart.convertToPixel({ xAxisIndex: 0 }, w);
  var kind = lineKind[i];
  var kc = kind === 'fe' ? cyanColor : (kind === 'ge' ? redColor : textGray);
  var lc = kind === 'ge' ? redColor : '#555';
  g.push({ type: 'line', silent: true, z: 9,
    shape: { x1: labelCol[i] + 5, y1: yTop - 11, x2: px, y2: yTop },
    style: { stroke: lc, lineWidth: kind === 'ge' ? 1.6 : 1 } });
  g.push({ type: 'line', silent: true, z: 9,
    shape: { x1: px, y1: yZero, x2: px, y2: yZero + 5 },
    style: { stroke: kind === 'ge' ? redColor : '#777', lineWidth: 1 } });
  var str = lineText[i];
  for (var c = 0; c < str.length; c++) {
    glyph(str[c], labelCol[i] + 4, yTop - 22 - 19 * c, 32, c < 8 ? kc : textGray, Math.PI / 2);
  }
});

var nameShift = [0, 0, 1, 0, 0];
names.forEach(function (n, k) {
  var yb = chart.convertToPixel({ yAxisIndex: 0 }, labelFlux[k]);
  for (var c = 0; c < n.length; c++) {
    glyph(n[c], 189 + 26 * (c + nameShift[k]), yb - 9, 48, '#3a3a3a', 0);
  }
});

chart.setOption({ graphic: { elements: g } });
</script>
</body>
</html>
